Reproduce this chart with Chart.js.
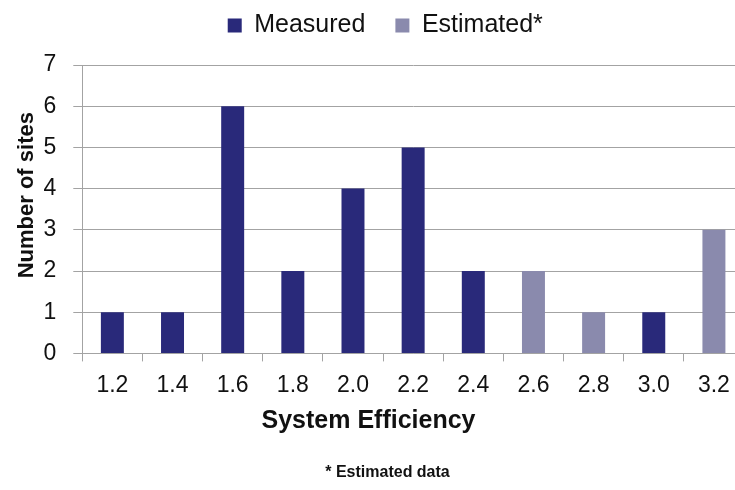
<!DOCTYPE html>
<html>
<head>
<meta charset="utf-8">
<script src="https://cdn.jsdelivr.net/npm/chart.js@4/dist/chart.umd.min.js"></script>
<style>
  html, body { margin: 0; padding: 0; background: #fff; overflow: hidden; }
  canvas { display: block; }
</style>
</head>
<body>
<canvas id="chart" width="757" height="490"></canvas>
<script>
// Histogram of system efficiency across sites
const categories = ['1.2', '1.4', '1.6', '1.8', '2.0', '2.2', '2.4', '2.6', '2.8', '3.0', '3.2'];
const measured   = [1, 1, 6, 2, 4, 5, 2, null, null, 1, null];
const estimated  = [null, null, null, null, null, null, null, 2, 1, null, 3];
const seriesNames = ['Measured', 'Estimated*'];
const yTicks = [0, 1, 2, 3, 4, 5, 6, 7];

const xTitle = 'System Efficiency';
const yTitle = 'Number of sites';
const footnote = '* Estimated data';

const FONT = '"Liberation Sans", Arial, Helvetica, sans-serif';
const MEASURED_COLOR = '#29297a';
const ESTIMATED_COLOR = '#8a8aad';
const GRID_COLOR = '#a3a3a3';

// Axis titles and footnote drawn as canvas text
const axisText = {
  id: 'axisText',
  afterDraw(chart) {
    const { ctx, chartArea, width } = chart;
    ctx.save();
    ctx.fillStyle = '#111';
    ctx.textAlign = 'center';
    ctx.textBaseline = 'alphabetic';

    ctx.font = 'bold 25px ' + FONT;
    ctx.fillText(xTitle, width / 2 - 10, chartArea.bottom + 75);

    ctx.font = 'bold 16px ' + FONT;
    ctx.fillText(footnote, width / 2 + 9, chartArea.bottom + 124);

    ctx.font = 'bold 22px ' + FONT;
    ctx.translate(33, (chartArea.top + chartArea.bottom) / 2 - 14);
    ctx.rotate(-Math.PI / 2);
    ctx.fillText(yTitle, 0, 0);
    ctx.restore();
  }
};

new Chart(document.getElementById('chart'), {
  type: 'bar',
  data: {
    labels: categories,
    datasets: [
      { label: seriesNames[0], data: measured, backgroundColor: MEASURED_COLOR },
      { label: seriesNames[1], data: estimated, backgroundColor: ESTIMATED_COLOR }
    ]
  },
  options: {
    responsive: false,
    animation: false,
    grouped: false,
    categoryPercentage: 1,
    barPercentage: 0.382,
    layout: { padding: { top: -17, left: 26.5, right: 13, bottom: 81 } },
    plugins: {
      legend: {
        position: 'top',
        labels: {
          boxWidth: 14,
          boxHeight: 14,
          padding: 30,
          color: '#111',
          font: { family: FONT, size: 25 }
        }
      },
      title: {
        display: true,
        text: '',
        weight: 500,
        font: { size: 10, lineHeight: 1 },
        padding: { top: 0, bottom: 7 }
      },
      tooltip: { enabled: false }
    },
    scales: {
      x: {
        offset: true,
        grid: {
          display: true,
          drawOnChartArea: false,
          offset: true,
          tickLength: 8,
          color: GRID_COLOR
        },
        border: { color: GRID_COLOR },
        ticks: {
          padding: 10,
          color: '#111',
          font: { family: FONT, size: 23 }
        }
      },
      y: {
        min: yTicks[0],
        max: yTicks[yTicks.length - 1],
        afterBuildTicks(scale) { scale.ticks = yTicks.map(v => ({ value: v })); },
        grid: { color: GRID_COLOR, tickLength: 9 },
        border: { color: GRID_COLOR },
        ticks: {
          padding: 17,
          color: '#111',
          font: { family: FONT, size: 23 }
        }
      }
    }
  },
  plugins: [axisText]
});
</script>
</body>
</html>
